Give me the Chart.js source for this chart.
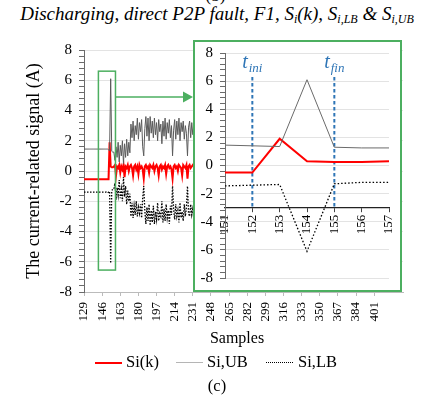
<!DOCTYPE html>
<html>
<head>
<meta charset="utf-8">
<script src="https://cdn.jsdelivr.net/npm/chart.js@4.4.1/dist/chart.umd.min.js"></script>
<style>
  html, body { margin: 0; padding: 0; background: #fff; }
  body { width: 431px; height: 396px; position: relative; overflow: hidden; font-family: "Liberation Serif", serif; color: #000; }
  .abs { position: absolute; white-space: nowrap; }
  #title { top: 3px; left: 0; width: 434px; text-align: center; font-style: italic; font-size: 19px; }
  #title sub { font-size: 12px; vertical-align: -3px; }
  #prev { top: -14px; left: 0; width: 431px; text-align: center; font-size: 17px; }
  #mainWrap { left: 0; top: 0; width: 431px; height: 330px; }
  #inset { left: 193px; top: 40px; width: 209px; height: 252px; box-sizing: border-box; border: 2px solid #4caf60; background: #fff; }
  #inset canvas { position: absolute; left: 0; top: 0; }
  #xTitle { top: 329px; left: 0; width: 474px; text-align: center; font-size: 16px; }
  .leg { top: 352px; font-size: 16.5px; }
  .swatch { position: absolute; width: 27px; height: 0; }
  #cap { top: 376px; left: 0; width: 434px; text-align: center; font-size: 16.5px; }
</style>
</head>
<body>
<div id="prev" class="abs">(b)</div>
<div id="title" class="abs">Discharging, direct P2P fault, F1, S<sub>i</sub>(k), S<sub>i,LB</sub> &amp; S<sub>i,UB</sub></div>
<div id="mainWrap" class="abs"><canvas id="mainChart" width="431" height="330"></canvas></div>
<div id="inset" class="abs"><canvas id="insetChart" width="205" height="248"></canvas></div>
<div id="xTitle" class="abs">Samples</div>
<div class="swatch" style="left:95px;top:362px;border-top:2px solid #ff0000;"></div>
<div class="abs leg" style="left:126px;">Si(k)</div>
<div class="swatch" style="left:176px;top:362px;border-top:1px solid #b5b5b5;"></div>
<div class="abs leg" style="left:207px;">Si,UB</div>
<div class="swatch" style="left:266px;top:362px;border-top:1px dotted #000;"></div>
<div class="abs leg" style="left:298px;">Si,LB</div>
<div id="cap" class="abs">(c)</div>

<script>
// main chart: samples 129..233 (the rest sits behind the zoom box)
const mainStart = 129;
const siMain = [
  -0.55,-0.55,-0.55,-0.55,-0.55,-0.55,-0.55,-0.55,-0.55,-0.55,-0.55,-0.55,
  -0.55,-0.55,-0.55,-0.55,-0.55,-0.55,-0.55,-0.55,-0.55,-0.55,-0.55,-0.55,
  1.9,0.3,0.25,
  0.25,0.3,0.4,-0.3,0.3,0.2,0.4,-0.1,0.3,0.1,0.4,-0.4,0.3,0.2,0.4,0.0,0.3,
  0.4,0.2,-0.3,0.3,0.4,0.1,0.3,-0.2,0.4,0.2,0.3,0.1,-0.5,0.3,0.4,0.2,0.3,-0.1,0.4,0.3,
  0.2,0.4,0.0,0.3,0.4,0.2,-0.3,0.3,0.4,0.1,0.3,0.2,0.4,-0.2,0.3,0.4,0.2,0.3,0.1,-0.5,
  0.3,0.4,0.2,0.3,0.0,0.4,0.3,0.2,-0.3,0.4,0.3,0.2,0.4,-0.5,0.3,0.4,0.2,0.3,0.4,0.3,0.3
];
const ubMain = [
  1.45,1.45,1.45,1.45,1.45,1.45,1.45,1.45,1.45,1.45,1.45,1.45,
  1.45,1.45,1.45,1.45,1.45,1.45,1.45,1.45,1.45,1.45,1.45,1.4,
  1.35,6.1,1.3,
  1.25,1.25,0.7,1.6,0.9,1.9,0.6,1.7,1.0,2.0,0.5,1.8,0.9,2.1,1.0,1.9,1.2,
  3.1,2.2,3.3,2.0,3.0,2.4,3.5,2.1,3.2,2.6,3.4,1.6,1.0,2.8,3.6,2.3,3.5,2.0,3.6,2.5,
  3.3,2.2,3.5,2.4,3.2,2.0,3.4,2.6,3.1,1.8,3.3,2.3,3.5,2.1,3.2,2.5,3.4,2.2,3.0,1.0,
  2.7,3.4,2.1,3.3,2.4,3.5,2.0,3.2,2.6,3.3,2.1,3.0,2.5,1.0,2.9,3.3,2.2,3.2,2.4,3.0,2.8
];
const lbMain = [
  -1.4,-1.4,-1.4,-1.4,-1.4,-1.4,-1.4,-1.4,-1.4,-1.4,-1.4,-1.4,
  -1.4,-1.4,-1.4,-1.4,-1.4,-1.4,-1.4,-1.4,-1.4,-1.4,-1.45,-1.4,
  -1.35,-6.1,-1.3,
  -1.2,-1.2,-0.8,-1.9,-1.1,-1.6,-0.6,-1.8,-1.2,-2.0,-0.4,-1.7,-1.0,-2.2,-1.3,-2.0,-1.5,
  -3.0,-2.1,-3.1,-2.3,-2.9,-2.0,-3.0,-2.4,-2.8,-2.2,-3.1,-1.8,-1.0,-2.6,-3.5,-2.4,-3.3,-2.2,-3.6,-2.6,
  -3.4,-2.3,-3.5,-2.7,-3.2,-2.1,-3.3,-2.8,-3.0,-2.0,-3.4,-2.5,-3.3,-2.2,-3.1,-2.6,-3.5,-2.3,-2.9,-1.0,
  -2.5,-3.2,-2.2,-3.0,-2.6,-3.4,-2.1,-3.1,-2.7,-3.3,-2.2,-3.0,-2.4,-1.0,-2.8,-3.0,-2.2,-2.9,-2.5,-3.0,-2.8
];
const mainTicks = [129,146,163,180,197,214,231,248,265,282,299,316,333,350,367,384,401];

// zoomed view
const insetSamples = [151,152,153,154,155,156,157];
const siInset = [-0.5,-0.5,1.9,0.3,0.25,0.25,0.3];
const ubInset = [1.45,1.4,1.35,6.1,1.3,1.25,1.25];
const lbInset = [-1.45,-1.4,-1.35,-6.1,-1.3,-1.2,-1.2];
const markerSamples = [152,155];
const markerNames = ['ini','fin'];

const yLabels = [-8,-6,-4,-2,0,2,4,6,8];
const minorStep = 0.4;

const SERIF = '"Liberation Serif", serif';
const GREEN = '#4caf60';
const BLUE = '#2e75b6';

function yTicks() {
  const out = [];
  for (let i = 0; i <= 40; i++) out.push({ value: Math.round((-8 + i * minorStep) * 10) / 10 });
  return out;
}
const toXY = (arr, start) => arr.map((v, i) => ({ x: start + i, y: v }));
const pairXY = (xs, ys) => xs.map((x, i) => ({ x: x, y: ys[i] }));

function yAxis(width, fontSize) {
  return {
    min: -8, max: 8,
    afterBuildTicks: s => { s.ticks = yTicks(); },
    afterFit: s => { s.width = width; s.paddingTop = 0; s.paddingBottom = 0; },
    ticks: {
      autoSkip: false,
      padding: 7,
      color: '#000',
      font: { family: SERIF, size: fontSize },
      callback: v => (yLabels.includes(v) ? String(v) : '')
    },
    grid: {
      color: c => (c.tick && Number.isInteger(c.tick.value) ? '#e3e3e3' : 'rgba(0,0,0,0)'),
      tickColor: '#6b6b6b',
      tickLength: 5
    },
    border: { color: '#6b6b6b' }
  };
}

// green zoom box and arrow on the main chart
const zoomBox = { x0: 142.5, x1: 158.5, y0: -6.55, y1: 6.6, arrowY: 4.9 };
const boxPlugin = {
  id: 'zoomBox',
  afterDatasetsDraw(chart) {
    const { ctx, scales: { x, y } } = chart;
    const l = x.getPixelForValue(zoomBox.x0), r = x.getPixelForValue(zoomBox.x1);
    const t = y.getPixelForValue(zoomBox.y1), b = y.getPixelForValue(zoomBox.y0);
    const ay = y.getPixelForValue(zoomBox.arrowY);
    const tip = 193;
    ctx.save();
    ctx.strokeStyle = GREEN;
    ctx.lineWidth = 1.5;
    ctx.strokeRect(l, t, r - l, b - t);
    ctx.beginPath();
    ctx.moveTo(r, ay);
    ctx.lineTo(tip - 8, ay);
    ctx.stroke();
    ctx.fillStyle = GREEN;
    ctx.beginPath();
    ctx.moveTo(tip, ay);
    ctx.lineTo(tip - 10, ay - 5.5);
    ctx.lineTo(tip - 10, ay + 5.5);
    ctx.closePath();
    ctx.fill();
    ctx.restore();
  }
};

new Chart(document.getElementById('mainChart'), {
  type: 'line',
  data: {
    datasets: [
      { label: 'Si,LB', data: toXY(lbMain, mainStart), borderColor: '#000', borderWidth: 1.3, borderDash: [1.5, 1.5] },
      { label: 'Si,UB', data: toXY(ubMain, mainStart), borderColor: '#5a5a5a', borderWidth: 1 },
      { label: 'Si(k)', data: toXY(siMain, mainStart), borderColor: '#ff0000', borderWidth: 2 }
    ]
  },
  options: {
    responsive: false,
    animation: false,
    layout: { padding: { top: 50, right: 28, bottom: 0, left: 0 } },
    elements: { point: { radius: 0 }, line: { tension: 0 } },
    plugins: { legend: { display: false }, tooltip: { enabled: false } },
    scales: {
      x: {
        type: 'linear', min: 129, max: 428,
        afterBuildTicks: s => { s.ticks = mainTicks.map(v => ({ value: v })); },
        afterFit: s => { s.height = 38; s.paddingLeft = 0; s.paddingRight = 0; },
        ticks: { autoSkip: false, minRotation: 90, maxRotation: 90, padding: 6, color: '#000', font: { family: SERIF, size: 13 } },
        grid: { drawOnChartArea: false, tickLength: 4, tickColor: '#bbb' },
        border: { color: '#bbb' }
      },
      y: Object.assign(yAxis(84, 15), {
        title: { display: true, text: 'The current-related signal (A)', color: '#000', font: { family: SERIF, size: 18 }, padding: { top: 23, bottom: 0 } }
      })
    }
  },
  plugins: [boxPlugin]
});

// t_ini / t_fin labels above the dashed lines
const markerPlugin = {
  id: 'markers',
  afterDatasetsDraw(chart) {
    const { ctx, scales: { x, y } } = chart;
    const base = y.getPixelForValue(6.95);
    ctx.save();
    ctx.fillStyle = BLUE;
    markerSamples.forEach((s, i) => {
      const cx = x.getPixelForValue(s);
      ctx.font = 'italic 20px ' + SERIF;
      const wT = ctx.measureText('t').width;
      ctx.font = 'italic 13px ' + SERIF;
      const wS = ctx.measureText(markerNames[i]).width;
      const left = cx - (wT + wS + 1) / 2;
      ctx.font = 'italic 20px ' + SERIF;
      ctx.fillText('t', left, base);
      ctx.font = 'italic 13px ' + SERIF;
      ctx.fillText(markerNames[i], left + wT + 1, base + 4);
    });
    ctx.restore();
  }
};

const markerSets = markerSamples.map(s => ({
  data: [{ x: s, y: 6.3 }, { x: s, y: -3 }],
  borderColor: BLUE, borderWidth: 2, borderDash: [3.5, 2.5]
}));

new Chart(document.getElementById('insetChart'), {
  type: 'line',
  data: {
    datasets: [
      { label: 'Si,LB', data: pairXY(insetSamples, lbInset), borderColor: '#000', borderWidth: 1.3, borderDash: [1.5, 2] },
      { label: 'Si,UB', data: pairXY(insetSamples, ubInset), borderColor: '#6a6a6a', borderWidth: 1 },
      { label: 'Si(k)', data: pairXY(insetSamples, siInset), borderColor: '#ff0000', borderWidth: 2 }
    ].concat(markerSets)
  },
  options: {
    responsive: false,
    animation: false,
    layout: { padding: { top: 11, right: 11, bottom: 12, left: 0 } },
    elements: { point: { radius: 0 }, line: { tension: 0 } },
    plugins: { legend: { display: false }, tooltip: { enabled: false } },
    scales: {
      x: {
        type: 'linear', min: 151, max: 157,
        position: { y: -3 },
        afterBuildTicks: s => { s.ticks = insetSamples.map(v => ({ value: v })); },
        afterFit: s => { s.paddingLeft = 0; s.paddingRight = 0; },
        ticks: { autoSkip: false, minRotation: 90, maxRotation: 90, padding: 3, color: '#000', font: { family: SERIF, size: 13 } },
        grid: { drawOnChartArea: false, tickLength: 4, tickColor: '#444' },
        border: { color: '#222', width: 1.2 }
      },
      y: yAxis(30, 15)
    }
  },
  plugins: [markerPlugin]
});
</script>
</body>
</html>
